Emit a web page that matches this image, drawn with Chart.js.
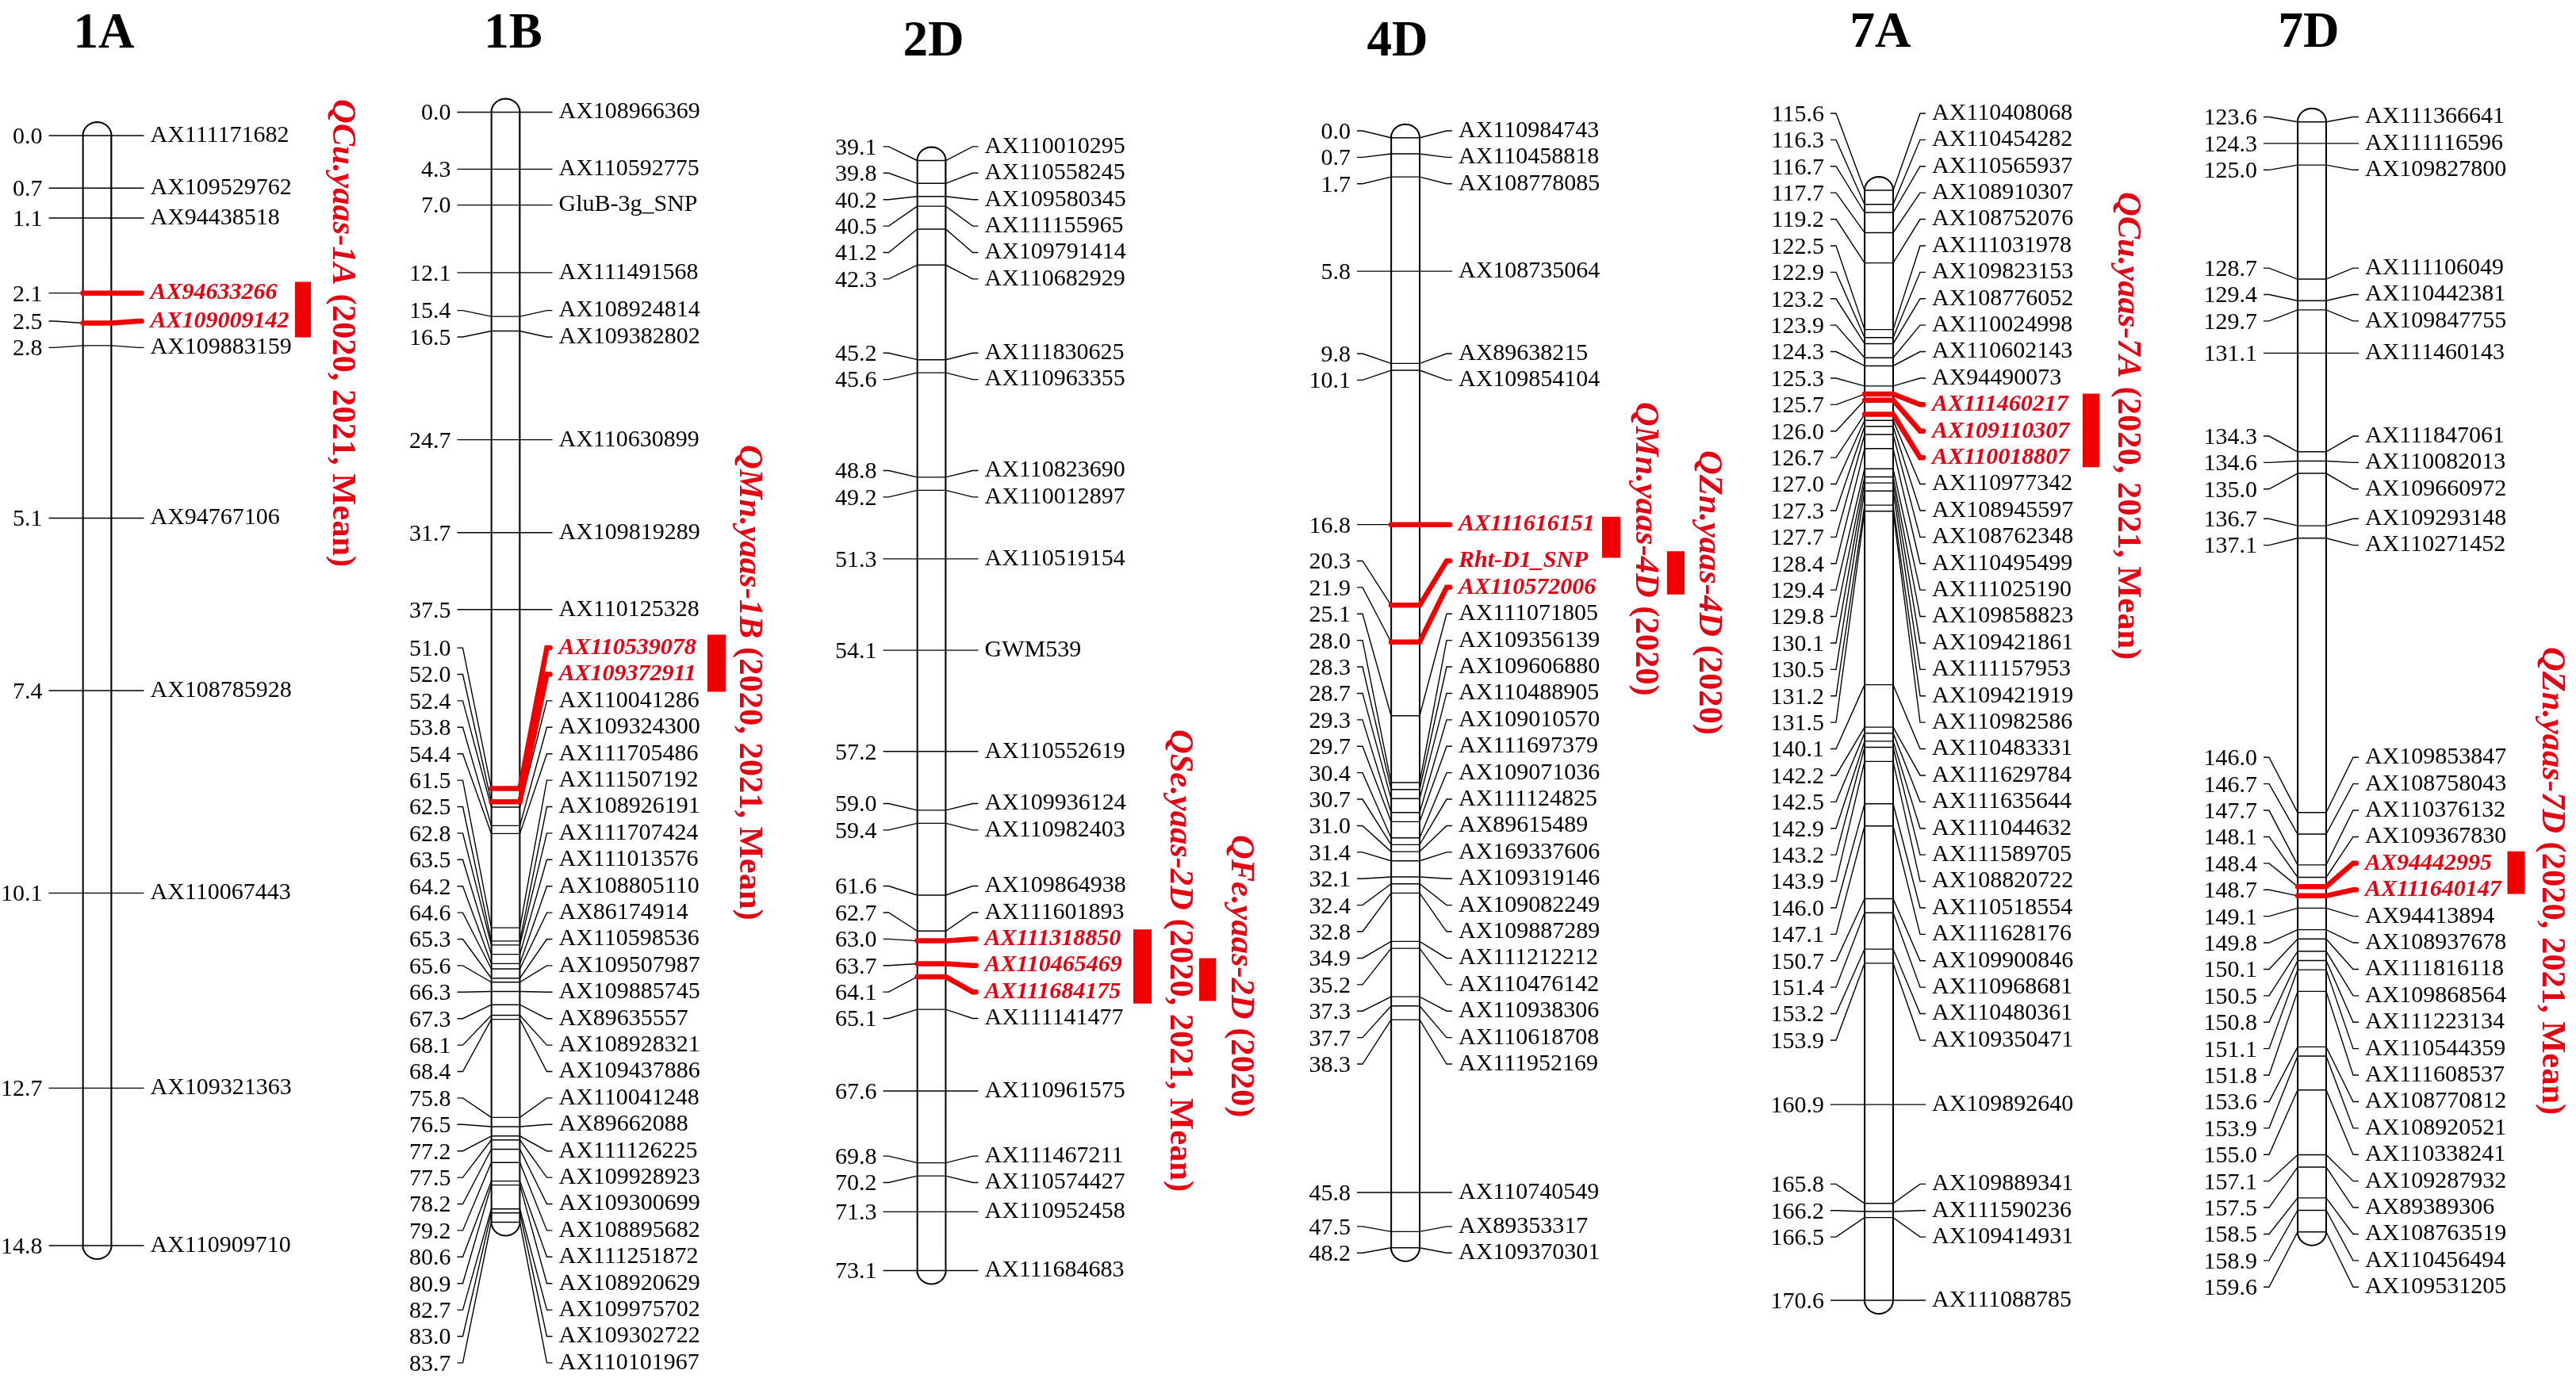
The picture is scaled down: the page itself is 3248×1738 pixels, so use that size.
<!DOCTYPE html>
<html>
<head>
<meta charset="utf-8">
<title>Genetic map</title>
<script src="https://cdn.jsdelivr.net/npm/chart.js@4/dist/chart.umd.js"></script>
<style>
  html, body { margin: 0; padding: 0; background: #fff; }
  canvas { display: block; }
</style>
</head>
<body>
<canvas id="mapChart" width="3248" height="1738"></canvas>
<script>
// ---------- DATA ----------
const chromosomes = ['1A', '1B', '2D', '4D', '7A', '7D'];

const pos1A = [0.0, 0.7, 1.1, 2.1, 2.5, 2.8, 5.1, 7.4, 10.1, 12.7, 14.8];
const names1A = ['AX111171682', 'AX109529762', 'AX94438518', 'AX94633266', 'AX109009142', 'AX109883159',
    'AX94767106', 'AX108785928', 'AX110067443', 'AX109321363', 'AX110909710'];
const hits1A = ['AX94633266', 'AX109009142'];

const pos1B = [0.0, 4.3, 7.0, 12.1, 15.4, 16.5, 24.7, 31.7, 37.5, 51.0, 52.0, 52.4, 53.8, 54.4, 61.5, 62.5, 62.8,
    63.5, 64.2, 64.6, 65.3, 65.6, 66.3, 67.3, 68.1, 68.4, 75.8, 76.5, 77.2, 77.5, 78.2, 79.2, 80.6, 80.9, 82.7, 83.0, 83.7];
const names1B = ['AX108966369', 'AX110592775', 'GluB-3g_SNP', 'AX111491568', 'AX108924814', 'AX109382802',
    'AX110630899', 'AX109819289', 'AX110125328', 'AX110539078', 'AX109372911', 'AX110041286', 'AX109324300',
    'AX111705486', 'AX111507192', 'AX108926191', 'AX111707424', 'AX111013576', 'AX108805110', 'AX86174914',
    'AX110598536', 'AX109507987', 'AX109885745', 'AX89635557', 'AX108928321', 'AX109437886', 'AX110041248',
    'AX89662088', 'AX111126225', 'AX109928923', 'AX109300699', 'AX108895682', 'AX111251872', 'AX108920629',
    'AX109975702', 'AX109302722', 'AX110101967'];
const hits1B = ['AX110539078', 'AX109372911'];

const pos2D = [39.1, 39.8, 40.2, 40.5, 41.2, 42.3, 45.2, 45.6, 48.8, 49.2, 51.3, 54.1, 57.2, 59.0, 59.4, 61.6, 62.7,
    63.0, 63.7, 64.1, 65.1, 67.6, 69.8, 70.2, 71.3, 73.1];
const names2D = ['AX110010295', 'AX110558245', 'AX109580345', 'AX111155965', 'AX109791414', 'AX110682929',
    'AX111830625', 'AX110963355', 'AX110823690', 'AX110012897', 'AX110519154', 'GWM539', 'AX110552619',
    'AX109936124', 'AX110982403', 'AX109864938', 'AX111601893', 'AX111318850', 'AX110465469', 'AX111684175',
    'AX111141477', 'AX110961575', 'AX111467211', 'AX110574427', 'AX110952458', 'AX111684683'];
const hits2D = ['AX111318850', 'AX110465469', 'AX111684175'];

const pos4D = [0.0, 0.7, 1.7, 5.8, 9.8, 10.1, 16.8, 20.3, 21.9, 25.1, 28.0, 28.3, 28.7, 29.3, 29.7, 30.4, 30.7, 31.0,
    31.4, 32.1, 32.4, 32.8, 34.9, 35.2, 37.3, 37.7, 38.3, 45.8, 47.5, 48.2];
const names4D = ['AX110984743', 'AX110458818', 'AX108778085', 'AX108735064', 'AX89638215', 'AX109854104',
    'AX111616151', 'Rht-D1_SNP', 'AX110572006', 'AX111071805', 'AX109356139', 'AX109606880', 'AX110488905',
    'AX109010570', 'AX111697379', 'AX109071036', 'AX111124825', 'AX89615489', 'AX169337606', 'AX109319146',
    'AX109082249', 'AX109887289', 'AX111212212', 'AX110476142', 'AX110938306', 'AX110618708', 'AX111952169',
    'AX110740549', 'AX89353317', 'AX109370301'];
const hits4D = ['AX111616151', 'Rht-D1_SNP', 'AX110572006'];

const pos7A = [115.6, 116.3, 116.7, 117.7, 119.2, 122.5, 122.9, 123.2, 123.9, 124.3, 125.3, 125.7, 126.0, 126.7,
    127.0, 127.3, 127.7, 128.4, 129.4, 129.8, 130.1, 130.5, 131.2, 131.5, 140.1, 142.2, 142.5, 142.9, 143.2, 143.9,
    146.0, 147.1, 150.7, 151.4, 153.2, 153.9, 160.9, 165.8, 166.2, 166.5, 170.6];
const names7A = ['AX110408068', 'AX110454282', 'AX110565937', 'AX108910307', 'AX108752076', 'AX111031978',
    'AX109823153', 'AX108776052', 'AX110024998', 'AX110602143', 'AX94490073', 'AX111460217', 'AX109110307',
    'AX110018807', 'AX110977342', 'AX108945597', 'AX108762348', 'AX110495499', 'AX111025190', 'AX109858823',
    'AX109421861', 'AX111157953', 'AX109421919', 'AX110982586', 'AX110483331', 'AX111629784', 'AX111635644',
    'AX111044632', 'AX111589705', 'AX108820722', 'AX110518554', 'AX111628176', 'AX109900846', 'AX110968681',
    'AX110480361', 'AX109350471', 'AX109892640', 'AX109889341', 'AX111590236', 'AX109414931', 'AX111088785'];
const hits7A = ['AX111460217', 'AX109110307', 'AX110018807'];

const pos7D = [123.6, 124.3, 125.0, 128.7, 129.4, 129.7, 131.1, 134.3, 134.6, 135.0, 136.7, 137.1, 146.0, 146.7,
    147.7, 148.1, 148.4, 148.7, 149.1, 149.8, 150.1, 150.5, 150.8, 151.1, 151.8, 153.6, 153.9, 155.0, 157.1, 157.5,
    158.5, 158.9, 159.6];
const names7D = ['AX111366641', 'AX111116596', 'AX109827800', 'AX111106049', 'AX110442381', 'AX109847755',
    'AX111460143', 'AX111847061', 'AX110082013', 'AX109660972', 'AX109293148', 'AX110271452', 'AX109853847',
    'AX108758043', 'AX110376132', 'AX109367830', 'AX94442995', 'AX111640147', 'AX94413894', 'AX108937678',
    'AX111816118', 'AX109868564', 'AX111223134', 'AX110544359', 'AX111608537', 'AX108770812', 'AX108920521',
    'AX110338241', 'AX109287932', 'AX89389306', 'AX108763519', 'AX110456494', 'AX109531205'];
const hits7D = ['AX94442995', 'AX111640147'];

// QTL: chromosome, name, note, interval start and end in cM
const qtlChrom = ['1A', '1B', '2D', '2D', '4D', '4D', '7A', '7D'];
const qtlNames = ['QCu.yaas-1A', 'QMn.yaas-1B', 'QSe.yaas-2D', 'QFe.yaas-2D', 'QMn.yaas-4D', 'QZn.yaas-4D', 'QCu.yaas-7A', 'QZn.yaas-7D'];
const qtlNotes = ['(2020, 2021, Mean)', '(2020, 2021, Mean)', '(2020, 2021, Mean)', '(2020)', '(2020)', '(2020)', '(2020, 2021, Mean)', '(2020, 2021, Mean)'];
const qtlStart = [1.95, 39.4, 62.65, 63.53, 16.46, 17.96, 125.68, 147.26];
const qtlEnd = [2.69, 43.7, 64.92, 64.84, 18.24, 19.83, 129.32, 148.64];

const chromData = {
    '1A': { pos: pos1A, names: names1A, hits: hits1A },
    '1B': { pos: pos1B, names: names1B, hits: hits1B },
    '2D': { pos: pos2D, names: names2D, hits: hits2D },
    '4D': { pos: pos4D, names: names4D, hits: hits4D },
    '7A': { pos: pos7A, names: names7A, hits: hits7A },
    '7D': { pos: pos7D, names: names7D, hits: hits7D }
};

// ---------- LAYOUT (pixels) ----------
const WIDTH = 3248, HEIGHT = 1738;
const BAR_LENGTH = 1400, BAR_WIDTH = 36, CAP = 17;
const ROW_GAP = 33.4, TICK_LEFT = 43, TICK_RIGHT = 41, KINK = 7, TEXT_GAP = 8;
const RED = '#f00000', TEXT_RED = '#e60012';
const FONT = '"Liberation Serif", "Times New Roman", serif';

const barLeft = { '1A': 104.5, '1B': 619.5, '2D': 1156.5, '4D': 1754, '7A': 2351, '7D': 2897 };
const barTop = { '1A': 171, '1B': 141.5, '2D': 202.5, '4D': 173.7, '7A': 240, '7D': 153.7 };
const titleX = { '1A': 131, '1B': 647, '2D': 1177, '4D': 1762, '7A': 2371, '7D': 2911 };
const titleY = { '1A': 60, '1B': 60, '2D': 70, '4D': 70, '7A': 59, '7D': 59 };
const qtlBarX = [382, 903.5, 1440.5, 1522.5, 2031.5, 2113, 2636.5, 3172.5];
const qtlBarW = [20, 23, 23, 21, 23, 22, 21, 22];
const qtlTextX = [420, 933, 1476, 1553, 2063, 2143, 2671, 3206];
const qtlTextY = [125, 561, 920, 1053, 507, 568, 242, 816];

function slopeOf(c) {
    const pos = chromData[c].pos;
    return BAR_LENGTH / (pos[pos.length - 1] - pos[0]);
}

function axisMin(c) {
    return chromData[c].pos[0] - barTop[c] / slopeOf(c);
}

// spread crowded labels into evenly spaced blocks, each centred on its marker span
function placeRows(c) {
    const s = slopeOf(c);
    const want = chromData[c].pos.map(p => (p - axisMin(c)) * s);
    let blocks = want.map((w, i) => ({ first: i, last: i }));
    const topOf = b => (want[b.first] + want[b.last]) / 2 - (b.last - b.first) * ROW_GAP / 2;
    const endOf = b => topOf(b) + (b.last - b.first) * ROW_GAP;

    let merged = true;
    while (merged) {
        merged = false;
        for (let i = 0; i < blocks.length - 1; i++) {
            if (endOf(blocks[i]) + ROW_GAP > topOf(blocks[i + 1]) + 0.01) {
                blocks[i].last = blocks[i + 1].last;
                blocks.splice(i + 1, 1);
                merged = true;
                break;
            }
        }
    }

    const rows = [];
    blocks.forEach(b => {
        for (let i = b.first; i <= b.last; i++) rows[i] = topOf(b) + (i - b.first) * ROW_GAP;
    });
    return rows;
}

const rowsByChrom = {};
chromosomes.forEach(c => { rowsByChrom[c] = placeRows(c); });

// ---------- DATASETS ----------
function lineSet(c, points, color, width, order, cap) {
    return {
        type: 'line',
        yAxisID: 'y' + c,
        data: points,
        borderColor: color,
        borderWidth: width,
        borderCapStyle: cap || 'butt',
        borderJoinStyle: 'miter',
        pointRadius: 0,
        tension: 0,
        fill: false,
        clip: false,
        order: order
    };
}

function outlinePoints(c) {
    const s = slopeOf(c), pos = chromData[c].pos;
    const first = pos[0], last = pos[pos.length - 1];
    const cx = barLeft[c] + BAR_WIDTH / 2, r = BAR_WIDTH / 2;
    const pts = [{ x: barLeft[c], y: last }, { x: barLeft[c], y: first }];
    for (let a = 10; a < 180; a += 10) {
        const t = a * Math.PI / 180;
        pts.push({ x: cx - r * Math.cos(t), y: first - CAP * Math.sin(t) / s });
    }
    pts.push({ x: barLeft[c] + BAR_WIDTH, y: first }, { x: barLeft[c] + BAR_WIDTH, y: last });
    for (let a = 10; a < 180; a += 10) {
        const t = a * Math.PI / 180;
        pts.push({ x: cx + r * Math.cos(t), y: last + CAP * Math.sin(t) / s });
    }
    pts.push({ x: barLeft[c], y: last });
    return pts;
}

function buildDatasets() {
    const sets = [];
    chromosomes.forEach(c => {
        const d = chromData[c], s = slopeOf(c), min = axisMin(c);
        const left = barLeft[c], right = left + BAR_WIDTH;
        sets.push(lineSet(c, outlinePoints(c), '#000', 2, 2));
        d.pos.forEach((p, i) => {
            const row = min + rowsByChrom[c][i] / s;
            const isHit = d.hits.includes(d.names[i]);
            const leftPart = [
                { x: left - TICK_LEFT, y: row },
                { x: left - TICK_LEFT + KINK, y: row },
                { x: left, y: p }
            ];
            const rightPart = [
                { x: left, y: p },
                { x: right, y: p },
                { x: right + TICK_RIGHT - KINK, y: row },
                { x: right + TICK_RIGHT - (isHit ? 3 : 0), y: row }
            ];
            sets.push(lineSet(c, leftPart, '#000', 1.4, 1));
            sets.push(lineSet(c, rightPart, isHit ? RED : '#000', isHit ? 6.5 : 1.4, isHit ? 0 : 1, isHit ? 'round' : 'butt'));
        });
    });
    qtlChrom.forEach((c, i) => {
        sets.push(lineSet(c, [{ x: qtlBarX[i], y: qtlStart[i] }, { x: qtlBarX[i], y: qtlEnd[i] }], RED, qtlBarW[i], 0));
    });
    return sets;
}

function buildScales() {
    const scales = { x: { type: 'linear', display: false, min: 0, max: WIDTH } };
    chromosomes.forEach(c => {
        const min = axisMin(c);
        scales['y' + c] = { type: 'linear', display: false, reverse: true, min: min, max: min + HEIGHT / slopeOf(c) };
    });
    return scales;
}

// ---------- TEXT ----------
const textPlugin = {
    id: 'mapText',
    afterDatasetsDraw(chart) {
        const ctx = chart.ctx;
        ctx.save();
        chromosomes.forEach(c => {
            const d = chromData[c], yScale = chart.scales['y' + c], xScale = chart.scales.x, s = slopeOf(c);
            const left = barLeft[c], right = left + BAR_WIDTH;

            ctx.fillStyle = '#000';
            ctx.font = 'bold 63px ' + FONT;
            ctx.textAlign = 'center';
            ctx.textBaseline = 'alphabetic';
            ctx.fillText(c, titleX[c], titleY[c]);

            ctx.textBaseline = 'middle';
            d.pos.forEach((p, i) => {
                const y = yScale.getPixelForValue(axisMin(c) + rowsByChrom[c][i] / s);
                const isHit = d.hits.includes(d.names[i]);
                ctx.fillStyle = '#000';
                ctx.font = '30px ' + FONT;
                ctx.textAlign = 'right';
                ctx.fillText(p.toFixed(1), xScale.getPixelForValue(left - TICK_LEFT - TEXT_GAP), y + 2);
                ctx.fillStyle = isHit ? TEXT_RED : '#000';
                ctx.font = (isHit ? 'italic bold 30px ' : '30px ') + FONT;
                ctx.textAlign = 'left';
                ctx.fillText(d.names[i], xScale.getPixelForValue(right + TICK_RIGHT + TEXT_GAP), y);
            });
        });

        // rotated QTL names
        qtlNames.forEach((name, i) => {
            ctx.save();
            ctx.translate(qtlTextX[i], qtlTextY[i]);
            ctx.rotate(Math.PI / 2);
            ctx.fillStyle = TEXT_RED;
            ctx.textAlign = 'left';
            ctx.textBaseline = 'alphabetic';
            ctx.font = 'italic bold 42.5px ' + FONT;
            ctx.fillText(name, 0, 0);
            const w = ctx.measureText(name + ' ').width;
            ctx.font = 'bold 42.5px ' + FONT;
            ctx.fillText(qtlNotes[i], w, 0);
            ctx.restore();
        });
        ctx.restore();
    }
};

// ---------- CHART ----------
new Chart(document.getElementById('mapChart').getContext('2d'), {
    type: 'line',
    data: { datasets: buildDatasets() },
    options: {
        responsive: false,
        devicePixelRatio: 1,
        animation: false,
        layout: { padding: 0 },
        scales: buildScales(),
        plugins: { legend: { display: false }, tooltip: { enabled: false }, title: { display: false } },
        events: []
    },
    plugins: [textPlugin]
});
</script>
</body>
</html>
